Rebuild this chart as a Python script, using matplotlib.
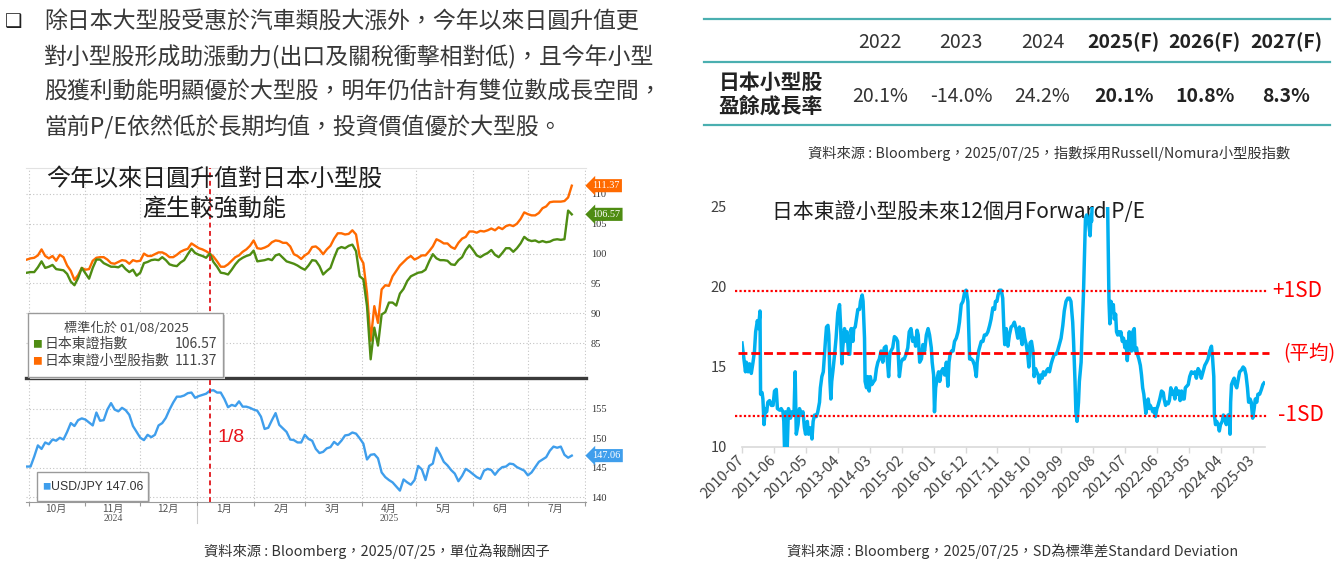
import numpy as np
import pandas as pd
import matplotlib
matplotlib.use("Agg")
import matplotlib.pyplot as plt
import matplotlib.dates as mdates
from matplotlib.patches import Rectangle
from matplotlib.lines import Line2D

plt.rcParams['font.family'] = ['Noto Sans CJK TC', 'DejaVu Sans']

# ---------------- data ----------------
intro_lines = [
    "除日本大型股受惠於汽車類股大漲外，今年以來日圓升值更",
    "對小型股形成助漲動力(出口及關稅衝擊相對低)，且今年小型",
    "股獲利動能明顯優於大型股，明年仍估計有雙位數成長空間，",
    "當前P/E依然低於長期均值，投資價值優於大型股。",
]

bb_title = ["今年以來日圓升值對日本小型股", "產生較強動能"]
norm_date = "2025-01-08"
series_start = "2024-09-30"      # sampled every 2 days
small_cap = [
    99.0, 99.2, 99.3, 99.7, 100.7, 99.6, 99.2, 99.6, 98.8, 99.8,
    99.4, 98.0, 97.1, 95.6, 96.4, 97.6, 97.3, 97.4, 98.8, 99.3,
    99.4, 99.4, 99.0, 98.4, 98.3, 98.6, 98.9, 98.8, 98.3, 98.9,
    98.7, 98.8, 100.0, 99.6, 99.6, 99.9, 100.2, 100.2, 99.9, 99.4,
    99.4, 99.8, 100.3, 100.6, 100.8, 101.7, 101.3, 100.9, 100.7, 100.4,
    100.0, 99.5, 98.7, 97.8, 97.8, 98.2, 98.8, 99.4, 99.7, 100.3,
    100.7, 101.3, 102.2, 100.9, 100.8, 101.0, 101.3, 101.9, 102.2, 102.1,
    101.8, 101.8, 101.2, 99.9, 99.6, 99.1, 99.7, 100.1, 101.1, 101.2,
    100.7, 99.9, 100.7, 101.3, 102.5, 103.4, 103.4, 103.2, 103.3, 103.9,
    103.2, 99.5, 98.4, 93.4, 85.4, 91.2, 88.4, 94.0, 94.7, 94.6,
    96.2, 97.1, 98.0, 98.6, 99.2, 99.6, 99.0, 99.3, 99.7, 99.7,
    100.4, 101.2, 102.4, 102.1, 101.7, 101.7, 101.1, 100.8, 101.8, 102.5,
    102.8, 103.7, 103.7, 103.5, 103.8, 103.7, 103.9, 104.2, 103.9, 104.4,
    104.1, 104.6, 104.8, 104.6, 105.0, 105.8, 106.9, 106.6, 106.4, 106.4,
    106.8, 107.6, 107.9, 108.6, 108.7, 108.7, 108.7, 108.8, 109.4, 111.37,
]
topix = [
    96.8, 96.9, 96.9, 97.7, 98.7, 97.6, 97.8, 98.1, 97.4, 97.3,
    97.2, 96.6, 95.3, 94.7, 95.9, 97.6, 96.7, 95.8, 97.6, 99.0,
    99.0, 98.4, 98.1, 97.8, 97.8, 97.7, 98.1, 97.4, 96.9, 97.3,
    96.3, 96.8, 98.4, 98.6, 98.9, 99.0, 98.9, 99.4, 98.9, 98.2,
    98.0, 97.9, 98.5, 98.9, 99.9, 100.8, 100.1, 99.8, 99.6, 99.3,
    100.0, 98.6, 97.8, 96.8, 96.7, 96.5, 97.3, 98.2, 98.9, 99.3,
    99.6, 99.8, 100.5, 98.7, 98.8, 98.9, 99.1, 98.9, 99.7, 99.9,
    99.3, 98.7, 98.5, 98.3, 98.0, 97.6, 97.3, 98.0, 98.9, 98.8,
    97.9, 96.5, 97.1, 97.6, 99.3, 100.8, 101.1, 100.9, 101.3, 101.5,
    100.4, 96.2, 95.7, 91.2, 82.3, 87.6, 84.6, 89.8, 90.2, 91.8,
    91.8, 91.3, 93.3, 94.1, 95.4, 96.2, 96.5, 96.8, 96.9, 97.3,
    98.7, 99.9, 99.2, 98.9, 98.9, 98.8, 98.2, 98.1, 98.9, 99.4,
    100.6, 101.4, 100.6, 99.7, 99.4, 99.8, 100.1, 100.6, 99.8, 99.4,
    100.1, 100.9, 100.9, 100.3, 100.9, 101.7, 102.8, 102.3, 102.1, 102.2,
    101.9, 102.1, 101.9, 102.0, 102.3, 102.4, 102.3, 102.4, 107.2, 106.57,
]
usdjpy = [
    145.2, 145.2, 146.9, 148.8, 148.2, 149.3, 149.0, 149.8, 149.6, 150.1,
    149.8, 151.1, 152.6, 152.1, 153.1, 153.4, 153.2, 152.7, 152.2, 154.4,
    153.0, 153.1, 154.9, 156.0, 154.9, 154.6, 155.2, 154.8, 154.0, 152.1,
    151.1, 150.1, 149.7, 150.6, 150.2, 150.6, 152.2, 152.6, 153.5, 154.9,
    156.1, 157.1, 157.1, 157.3, 157.7, 157.8, 156.9, 157.2, 157.4, 157.6,
    158.1, 158.2, 157.8, 157.8, 156.7, 155.3, 155.7, 155.5, 156.3, 155.4,
    155.4, 155.2, 154.9, 154.7, 153.7, 151.6, 151.8, 153.1, 154.3, 152.3,
    151.7, 151.1, 149.8, 149.7, 149.3, 149.3, 150.6, 149.9, 149.6, 148.2,
    147.5, 147.7, 148.3, 148.5, 149.4, 148.9, 149.6, 150.5, 150.6, 151.0,
    150.8, 150.0, 149.1, 146.4, 147.2, 147.3, 146.6, 144.2, 143.4, 142.9,
    142.5, 141.8, 141.1, 143.0, 142.5, 142.1, 142.9, 145.3, 144.7, 142.9,
    145.3, 145.7, 148.4, 147.3, 146.0, 145.4, 144.6, 144.0, 142.7, 143.6,
    144.8, 144.4, 143.9, 143.4, 143.1, 144.5, 144.8, 144.6, 143.8, 144.6,
    145.1, 145.2, 145.7, 145.6, 145.1, 144.8, 144.5, 143.7, 144.2, 145.1,
    146.0, 146.4, 146.8, 147.9, 148.6, 148.4, 148.6, 147.2, 146.7, 147.06,
]
bb_months = ["10月", "11月", "12月", "1月", "2月", "3月", "4月", "5月", "6月", "7月"]
bb_years = {"2024": "2024-11-16", "2025": "2025-04-16"}

table_years = ["2022", "2023", "2024", "2025(F)", "2026(F)", "2027(F)"]
table_growth = [20.1, -14.0, 24.2, 20.1, 10.8, 8.3]
table_row = ["日本小型股", "盈餘成長率"]

# forward P/E, x = months since 2010-07
pe_month = [
    0.0, 1.2, 1.5, 2.1, 2.6, 3.2, 3.8, 4.3, 4.7, 5.3, 5.7, 6.2, 6.4, 6.9, 7.2, 7.6, 8.0, 8.5, 8.9, 9.5,
    10.1, 10.7, 11.2, 11.8, 12.2, 13.0, 13.5, 14.1, 14.4, 14.7, 15.0, 15.5, 16.0, 16.7, 17.2, 17.9, 18.3, 18.7, 19.3, 19.8,
    20.4, 21.0, 21.5, 21.9, 22.5, 22.9, 23.6, 24.1, 24.5, 25.0, 25.6, 26.1, 26.7, 27.0, 27.5, 28.0, 28.4, 28.8, 29.1, 29.6,
    29.9, 30.3, 30.6, 30.9, 31.4, 31.9, 32.4, 33.0, 33.6, 33.9, 34.4, 34.7, 35.3, 35.9, 36.2, 36.7, 37.1, 37.6, 38.2, 38.5,
    39.0, 39.4, 39.9, 40.5, 40.8, 41.4, 41.7, 42.2, 42.4, 42.9, 43.3, 43.8, 44.2, 44.7, 45.4, 45.8, 46.3, 46.8, 47.3, 47.9,
    48.5, 49.0, 49.6, 50.2, 50.5, 50.9, 51.3, 51.9, 52.5, 53.1, 53.6, 54.2, 54.8, 55.4, 55.9, 56.5, 57.1, 57.6, 58.2, 58.8,
    59.4, 59.8, 60.3, 60.7, 61.2, 61.8, 62.3, 62.9, 63.5, 64.1, 64.6, 65.2, 65.5, 66.0, 66.3, 66.7, 67.2, 67.7, 68.1, 68.6,
    69.2, 69.8, 70.4, 70.9, 71.3, 71.7, 72.2, 72.7, 73.2, 73.8, 74.4, 74.9, 75.5, 76.1, 76.7, 77.2, 77.8, 78.4, 79.0, 79.5,
    80.1, 80.7, 81.0, 81.5, 81.8, 82.4, 83.0, 83.5, 84.1, 84.7, 85.3, 85.8, 86.4, 87.0, 87.3, 87.8, 88.2, 88.7, 89.3, 89.8,
    90.2, 90.5, 91.0, 91.6, 92.1, 92.7, 93.3, 93.8, 94.4, 95.0, 95.6, 96.1, 96.5, 96.9, 97.4, 97.9, 98.4, 98.8, 99.2, 99.7,
    100.2, 100.6, 101.1, 101.5, 102.0, 102.4, 102.9, 103.4, 103.8, 104.4, 105.0, 105.4, 105.9, 106.5, 107.0, 107.6, 108.2, 108.7, 109.3, 109.9,
    110.5, 111.0, 111.6, 112.2, 112.8, 113.3, 113.9, 114.2, 114.7, 115.0, 115.4, 115.9, 116.2, 116.8, 117.1, 117.6, 117.9, 118.3, 118.7, 119.3,
    119.9, 120.2, 120.4, 121.0, 123.0, 125.0, 125.9, 126.4, 126.7, 127.1, 127.5, 127.9, 128.2, 128.7, 129.0, 129.4, 129.8, 130.2, 130.5, 131.0,
    131.4, 131.9, 132.3, 132.7, 133.0, 133.4, 133.7, 134.2, 134.6, 135.1, 135.4, 135.9, 136.2, 136.7, 137.2, 137.6, 138.0, 138.4, 138.8, 139.1,
    139.6, 139.9, 140.3, 140.6, 141.1, 141.5, 142.0, 142.4, 142.9, 143.3, 143.9, 144.5, 145.1, 145.4, 145.9, 146.3, 146.8, 147.2, 147.7, 148.2,
    148.6, 149.1, 149.5, 150.0, 150.5, 150.9, 151.4, 151.8, 152.3, 152.7, 153.2, 153.7, 154.2, 154.8, 155.4, 156.0, 156.5, 157.1, 157.7, 158.2,
    158.8, 159.4, 160.0, 160.5, 161.1, 161.7, 162.1, 162.5, 162.7, 163.1, 163.5, 164.0, 164.4, 164.8, 165.4, 165.8, 166.3, 166.8, 167.4, 167.8,
    168.1, 168.3, 168.6, 169.0, 169.5, 169.9, 170.4, 170.8, 171.4, 172.0, 172.6, 173.1, 173.6, 174.1, 174.5, 175.0, 175.4, 175.9, 176.4, 176.8,
    177.3, 177.7, 178.3, 178.9, 179.4, 179.8,
]
pe_value = [
    16.5, 14.7, 15.3, 14.7, 15.2, 14.6, 15.3, 16.0, 17.2, 17.9, 17.4, 18.5, 13.3, 13.4, 13.0, 11.4, 12.4, 12.2, 12.8, 12.9,
    12.6, 12.6, 13.5, 13.6, 12.4, 12.3, 12.4, 12.2, 11.6, 9.5, 12.2, 9.5, 12.4, 11.8, 12.2, 12.0, 14.7, 10.8, 11.4, 12.4,
    12.0, 12.2, 11.2, 10.8, 11.6, 10.8, 11.2, 10.5, 11.6, 12.0, 11.9, 12.2, 12.8, 13.7, 14.4, 14.7, 15.8, 16.8, 17.5, 17.6,
    17.0, 14.1, 13.0, 14.1, 14.9, 15.8, 16.8, 18.4, 18.9, 17.8, 15.2, 16.2, 17.4, 16.6, 17.2, 15.8, 15.8, 17.4, 16.6, 17.4,
    17.5, 18.0, 18.6, 18.6, 19.1, 19.5, 19.1, 16.8, 14.1, 13.7, 14.4, 13.5, 14.4, 13.9, 14.1, 14.2, 14.9, 15.3, 15.5, 16.0,
    15.3, 16.2, 16.3, 15.1, 14.4, 15.8, 16.0, 16.2, 16.9, 16.8, 16.6, 14.4, 15.3, 15.5, 15.5, 15.8, 16.2, 17.2, 17.4, 16.6,
    16.8, 16.3, 17.3, 17.0, 15.3, 15.5, 16.4, 16.0, 17.0, 17.4, 17.0, 16.2, 15.3, 14.5, 12.2, 13.7, 14.3, 14.7, 14.1, 14.7,
    14.9, 14.5, 15.3, 13.8, 15.3, 15.8, 16.0, 16.0, 16.6, 16.8, 17.2, 17.8, 18.9, 19.1, 19.7, 19.8, 19.1, 15.5, 15.5, 15.4,
    15.1, 14.4, 15.3, 16.0, 16.2, 16.6, 16.6, 17.0, 17.0, 17.2, 17.6, 18.0, 18.7, 18.6, 19.1, 19.1, 19.5, 19.8, 19.8, 19.3,
    17.4, 16.4, 17.4, 16.3, 17.0, 17.5, 17.6, 17.8, 17.4, 16.8, 17.5, 16.8, 16.4, 17.4, 16.8, 16.4, 15.8, 15.0, 16.5, 16.6,
    16.0, 14.4, 14.9, 14.7, 14.5, 14.0, 14.5, 14.3, 14.7, 14.5, 14.8, 14.9, 14.7, 15.2, 15.5, 15.8, 15.8, 16.0, 16.4, 16.8,
    17.6, 18.5, 19.1, 19.3, 19.3, 19.1, 17.8, 16.6, 14.1, 12.2, 11.6, 12.8, 14.1, 15.3, 17.0, 19.5, 21.6, 24.3, 24.5, 24.1,
    23.2, 24.5, 24.1, 27.0, 30.0, 28.0, 25.5, 19.1, 17.7, 19.1, 18.5, 18.9, 18.0, 18.3, 17.2, 17.0, 17.2, 17.0, 17.2, 16.6,
    16.8, 16.2, 16.6, 15.4, 16.2, 17.2, 16.2, 16.0, 17.2, 17.4, 16.0, 16.2, 15.8, 15.5, 15.1, 14.5, 13.7, 13.3, 12.6, 12.1,
    12.8, 13.0, 12.4, 12.6, 12.4, 12.2, 12.4, 11.9, 12.4, 12.6, 13.0, 13.5, 13.4, 13.0, 12.6, 12.8, 12.7, 12.9, 13.7, 13.3,
    13.5, 13.0, 13.7, 13.3, 13.5, 12.9, 13.5, 13.0, 13.0, 13.7, 13.8, 13.9, 14.4, 14.7, 14.6, 14.7, 14.3, 14.9, 14.7, 14.3,
    14.7, 15.1, 15.3, 15.5, 16.0, 16.3, 15.5, 14.4, 12.0, 11.4, 11.6, 11.4, 11.0, 11.4, 11.6, 12.0, 11.8, 11.4, 12.0, 12.0,
    10.8, 12.8, 13.9, 14.1, 14.3, 13.9, 13.7, 14.1, 14.7, 14.8, 15.0, 14.9, 14.5, 13.7, 12.8, 13.0, 12.8, 11.8, 12.4, 13.0,
    12.8, 13.3, 13.3, 13.6, 13.9, 14.0,
]
pe_mean = 15.85
pe_sd = 3.9
pe_ticks = ["2010-07", "2011-06", "2012-05", "2013-04", "2014-03", "2015-02", "2016-01", "2016-12",
            "2017-11", "2018-10", "2019-09", "2020-08", "2021-07", "2022-06", "2023-05", "2024-04", "2025-03"]

# ---------------- styles ----------------
W, H = 1342, 561
ORANGE = "#FF6A00"
GREEN = "#4E8C12"
BLUE = "#3F9EEC"
LBLUE = "#00B0F0"
RED = "#FF0000"
TEAL = "#4AAFB0"
GRID = "#c4c4c4"
SERIF = ["Liberation Serif", "DejaVu Serif"]
LATIN = ["Liberation Sans", "DejaVu Sans"]

fig = plt.figure(figsize=(W / 100, H / 100), dpi=100)
fig.patch.set_facecolor("white")


def box(left, top, right, bottom):
    return [left / W, 1 - bottom / H, (right - left) / W, (bottom - top) / H]


def put(x, y, s, **kw):
    kw.setdefault("va", "center")
    return fig.text(x / W, 1 - y / H, s, **kw)


# ---------------- intro paragraph ----------------
put(14, 22, "❑", family=["DejaVu Sans"], fontsize=14, ha="center", color="#222222")
for i, line in enumerate(intro_lines):
    put(44, 22 + 35 * i, line, fontsize=16.5, color="#383838")

# ---------------- Bloomberg style chart ----------------
dates = pd.date_range(series_start, periods=len(small_cap), freq="2D")
month_starts = pd.date_range("2024-10-01", "2025-08-01", freq="MS")
mid_months = month_starts[:-1] + pd.Timedelta(days=15)
x0 = pd.Timestamp("2024-09-29 12:00")
x1 = pd.Timestamp("2025-08-01 12:00")

ax1 = fig.add_axes(box(26, 168, 585.5, 378))
ax1.plot(dates, small_cap, color=ORANGE, lw=1.7, zorder=3)
ax1.plot(dates, topix, color=GREEN, lw=1.7, zorder=3)
ax1.set_xlim(x0, x1)
ax1.set_ylim(79.17, 114.33)
ax1.set_xticks(month_starts)
ax1.set_yticks([85, 90, 95, 100, 105, 110])
ax1.yaxis.tick_right()
ax1.tick_params(axis="x", length=0, labelbottom=False)
ax1.tick_params(axis="y", length=0, pad=4, labelsize=7.5, labelcolor="#333333")
for lab in ax1.get_yticklabels():
    lab.set_fontfamily(SERIF)
ax1.grid(True, ls=(0, (1, 2)), color=GRID, lw=0.8)
for s in ["left", "right", "bottom"]:
    ax1.spines[s].set_visible(False)
ax1.spines["top"].set_color("#e2e2e2")

ax2 = fig.add_axes(box(26, 378, 585.5, 502))
ax2.plot(dates, usdjpy, color=BLUE, lw=1.7, zorder=3)
ax2.set_xlim(x0, x1)
ax2.set_ylim(139.16, 160.28)
ax2.set_yticks([140, 145, 150, 155])
ax2.yaxis.tick_right()
ax2.tick_params(axis="y", length=0, pad=4, labelsize=7.5, labelcolor="#333333")
for lab in ax2.get_yticklabels():
    lab.set_fontfamily(SERIF)
ax2.set_xticks(month_starts)
ax2.set_xticklabels([])
ax2.set_xticks(mid_months, minor=True)
ax2.set_xticklabels(bb_months, minor=True)
ax2.tick_params(axis="x", which="major", length=3, color="#999999", width=0.8)
ax2.tick_params(axis="x", which="minor", length=0, pad=1.5, labelsize=7.3, labelcolor="#555555")
ax2.grid(True, which="major", ls=(0, (1, 2)), color=GRID, lw=0.8)
for s in ["left", "right"]:
    ax2.spines[s].set_visible(False)
ax2.spines["top"].set_color("#3a3a3a")
ax2.spines["top"].set_linewidth(2.4)
ax2.spines["bottom"].set_color("#9a9a9a")
xtrans = ax2.get_xaxis_transform()
for yr, d in bb_years.items():
    ax2.text(pd.Timestamp(d), -0.13, yr, transform=xtrans, ha="center", va="center",
             fontsize=7, color="#555555", family=SERIF)
ax2.plot([pd.Timestamp("2025-01-01")] * 2, [-0.03, -0.17], transform=xtrans,
         color="#cccccc", lw=0.8, clip_on=False)

for ax in (ax1, ax2):
    ax.axvline(pd.Timestamp(norm_date), color="#E3262B", ls=(0, (2.5, 1.8)), lw=1.4, zorder=4)


def tag(ax, value, color):
    ax.annotate(f"{value:.2f}", xy=(1.0, value), xycoords=("axes fraction", "data"),
                xytext=(7, 0), textcoords="offset pixels", ha="left", va="center",
                fontsize=7.4, color="white", family=SERIF, annotation_clip=False,
                bbox=dict(boxstyle="larrow,pad=0.2", fc=color, ec="none"), zorder=6)


tag(ax1, small_cap[-1], ORANGE)
tag(ax1, topix[-1], GREEN)
tag(ax2, usdjpy[-1], BLUE)

put(214, 179, bb_title[0], fontsize=17.3, ha="center", color="#1e1e1e")
put(214, 209, bb_title[1], fontsize=17.3, ha="center", color="#1e1e1e")

# legend boxes
fig.add_artist(Rectangle((30 / W, 1 - 379 / H), 195 / W, 64 / H, transform=fig.transFigure,
                         fc="#d0d0d0", ec="none", zorder=5))
fig.add_artist(Rectangle((28 / W, 1 - 377 / H), 195 / W, 64 / H, transform=fig.transFigure,
                         fc="white", ec="#9a9a9a", lw=1, zorder=5))
put(126, 328, "標準化於 01/08/2025", fontsize=9.5, ha="center", color="#444444", zorder=6)
put(37, 344, "■", fontsize=7, ha="center", color=GREEN, zorder=6)
put(45, 344, "日本東證指數", fontsize=10, color="#444444", zorder=6)
put(217, 344, f"{topix[-1]:.2f}", fontsize=10, ha="right", color="#444444", zorder=6)
put(37, 361, "■", fontsize=7, ha="center", color=ORANGE, zorder=6)
put(45, 361, "日本東證小型股指數", fontsize=10, color="#444444", zorder=6)
put(217, 361, f"{small_cap[-1]:.2f}", fontsize=10, ha="right", color="#444444", zorder=6)

fig.add_artist(Rectangle((39 / W, 1 - 502 / H), 111 / W, 29 / H, transform=fig.transFigure,
                         fc="#d0d0d0", ec="none", zorder=5))
fig.add_artist(Rectangle((37 / W, 1 - 500.5 / H), 111 / W, 29 / H, transform=fig.transFigure,
                         fc="white", ec="#9a9a9a", lw=1, zorder=5))
put(46, 487, "■", fontsize=6, ha="center", color=BLUE, zorder=6)
put(51, 487, f"USD/JPY {usdjpy[-1]:.2f}", fontsize=8.8, family=LATIN, color="#333333", zorder=6)

put(218, 438, "1/8", fontsize=14, family=LATIN, color="#E8141B")

put(377, 551, "資料來源 : Bloomberg，2025/07/25，單位為報酬因子", fontsize=10.3,
    ha="center", color="#333333")

# ---------------- growth table ----------------
for y in (19, 62, 125):
    fig.add_artist(Line2D([704 / W, 1330 / W], [1 - y / H] * 2, color=TEAL, lw=1.6))
for i, (yr, g) in enumerate(zip(table_years, table_growth)):
    cx = 880 + 81.2 * i
    fc = "(F)" in yr
    put(cx, 42, yr, fontsize=14, ha="center", color="#222222" if fc else "#333333",
        weight="bold" if fc else "normal")
    put(cx, 97, f"{g:.1f}%", fontsize=14, ha="center", color="#222222" if fc else "#333333",
        weight="bold" if fc else "normal")
put(771, 82, table_row[0], fontsize=15, ha="center", weight="bold", color="#222222")
put(771, 106, table_row[1], fontsize=15, ha="center", weight="bold", color="#222222")
put(1049, 153, "資料來源 : Bloomberg，2025/07/25，指數採用Russell/Nomura小型股指數",
    fontsize=10.3, ha="center", color="#333333")

# ---------------- forward P/E chart ----------------
ax3 = fig.add_axes(box(742, 207, 1264.6, 447))
ax3.plot(pe_month, pe_value, color=LBLUE, lw=2.5, zorder=3, solid_joinstyle="round")
ax3.set_xlim(0, 180)
ax3.set_ylim(10, 25)
ax3.plot([-2.5, 181], [pe_mean + pe_sd] * 2, color=RED, ls=(0, (1, 1)), lw=1.6,
         clip_on=False, zorder=4)
ax3.plot([-1.5, 181.5], [pe_mean] * 2, color=RED, ls=(0, (3.2, 1.4)), lw=2.0,
         clip_on=False, zorder=4)
ax3.plot([-2.5, 181], [pe_mean - pe_sd] * 2, color=RED, ls=(0, (1, 1)), lw=1.6,
         clip_on=False, zorder=4)
ax3.set_yticks([10, 15, 20, 25])
ax3.tick_params(axis="y", length=0, pad=11, labelsize=10.5, labelcolor="#404040")
ax3.set_xticks([11 * i for i in range(len(pe_ticks))])
ax3.set_xticklabels(pe_ticks, rotation=45, ha="right", va="center", rotation_mode="anchor")
ax3.tick_params(axis="x", length=4, color="#d9d9d9", width=1, pad=4,
                labelsize=10.5, labelcolor="#404040")
for s in ["left", "right", "top"]:
    ax3.spines[s].set_visible(False)
ax3.spines["bottom"].set_color("#d9d9d9")
ax3.spines["bottom"].set_linewidth(1.2)
ax3.text(772 / W, 1 - 212 / H, "日本東證小型股未來12個月Forward P/E", transform=fig.transFigure,
         fontsize=15, va="center", color="#1e1e1e", zorder=1, clip_on=False)

put(1272, 291, "+1SD", fontsize=15, color=RED)
put(1283, 354, "(平均)", fontsize=14, color=RED)
put(1278, 415, "-1SD", fontsize=15, color=RED)

put(1013, 551, "資料來源 : Bloomberg，2025/07/25，SD為標準差Standard Deviation",
    fontsize=10.3, ha="center", color="#333333")

fig.savefig("out.png", dpi=100, facecolor="white")
